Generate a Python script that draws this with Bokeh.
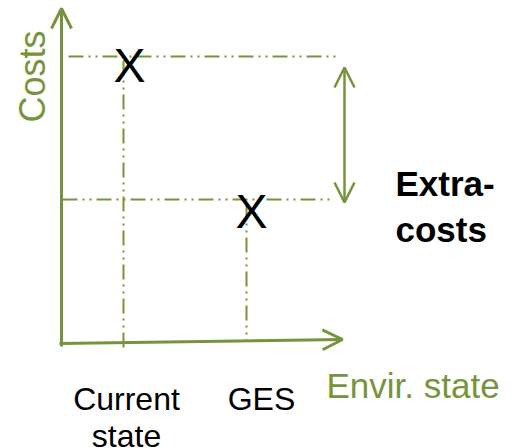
from bokeh.plotting import figure
from bokeh.models import Range1d, Arrow, OpenHead, ColumnDataSource
from bokeh.core.properties import value
from bokeh.embed import file_html
from bokeh.resources import INLINE
import math

# --- data (conceptual diagram, units = px from the axes origin) ---
states = ["Current\nstate", "GES"]
state_x = [62, 185]
costs = [289, 146]
markers = ["X", "X"]
x_axis_label = "Envir. state"
y_axis_label = "Costs"
extra_label = "Extra-\ncosts"

GREEN = "#77933C"
FONT = "Liberation Sans"

p = figure(width=512, height=448, output_backend="svg", toolbar_location=None,
           x_range=Range1d(-61, 451), y_range=Range1d(-103, 345),
           min_border=0, outline_line_color=None)
p.xaxis.visible = False
p.yaxis.visible = False
p.xgrid.visible = False
p.ygrid.visible = False

# axes as arrows
p.add_layout(Arrow(end=OpenHead(size=20, line_color=GREEN, line_width=3),
                   x_start=0, y_start=-1, x_end=0, y_end=337,
                   line_color=GREEN, line_width=3))
p.add_layout(Arrow(end=OpenHead(size=20, line_color=GREEN, line_width=3),
                   x_start=-2, y_start=2, x_end=281, y_end=6,
                   line_color=GREEN, line_width=3))

# dash-dot-dot guide lines
dash = "15 5 2 5 2 5"
hx0 = [7, 1]
hx1 = [274, 269]
p.segment(x0=hx0, y0=costs, x1=hx1, y1=costs, line_color=GREEN, line_width=2, line_dash=dash)
vy0 = [c - 4 for c in costs]
vy1 = [-3, 5]
p.segment(x0=state_x, y0=vy0, x1=state_x, y1=vy1, line_color=GREEN, line_width=2, line_dash=dash)

# double arrow for extra-costs
p.add_layout(Arrow(start=OpenHead(size=20, line_color=GREEN, line_width=2.5),
                   end=OpenHead(size=20, line_color=GREEN, line_width=2.5),
                   x_start=283, y_start=costs[1] - 3, x_end=283, y_end=costs[0] - 11,
                   line_color=GREEN, line_width=2.5))

# X markers
src = ColumnDataSource(dict(x=state_x, y=costs, t=markers, xo=[6, 5], yo=[9, 12]))
p.text(x="x", y="y", text="t", x_offset="xo", y_offset="yo", source=src,
       text_font=value(FONT), text_font_size="48px", text_color="black",
       text_align="center", text_baseline="middle")

# state labels
lsrc = ColumnDataSource(dict(x=state_x, t=states, y=[-35, -35], xo=[3, 15]))
p.text(x="x", y="y", text="t", x_offset="xo", source=lsrc,
       text_font=value(FONT), text_font_size="32px", text_color="black",
       text_align="center", text_baseline="top", text_line_height=1.05)

# axis labels
p.text(x=[265], y=[-40], text=[x_axis_label], text_font=value(FONT),
       text_font_size="35px", text_color=GREEN, text_align="left",
       text_baseline="middle")
p.text(x=[-29], y=[269], text=[y_axis_label], angle=math.pi / 2,
       text_font=value(FONT), text_font_size="36px", text_color=GREEN,
       text_align="center", text_baseline="middle")

# extra-costs label
p.text(x=[334], y=[182], text=[extra_label], text_font=value(FONT),
       text_font_size="35px", text_font_style="bold", text_color="black",
       text_align="left", text_baseline="top", text_line_height=1.2)

open("out.html", "w").write(file_html(p, INLINE))
